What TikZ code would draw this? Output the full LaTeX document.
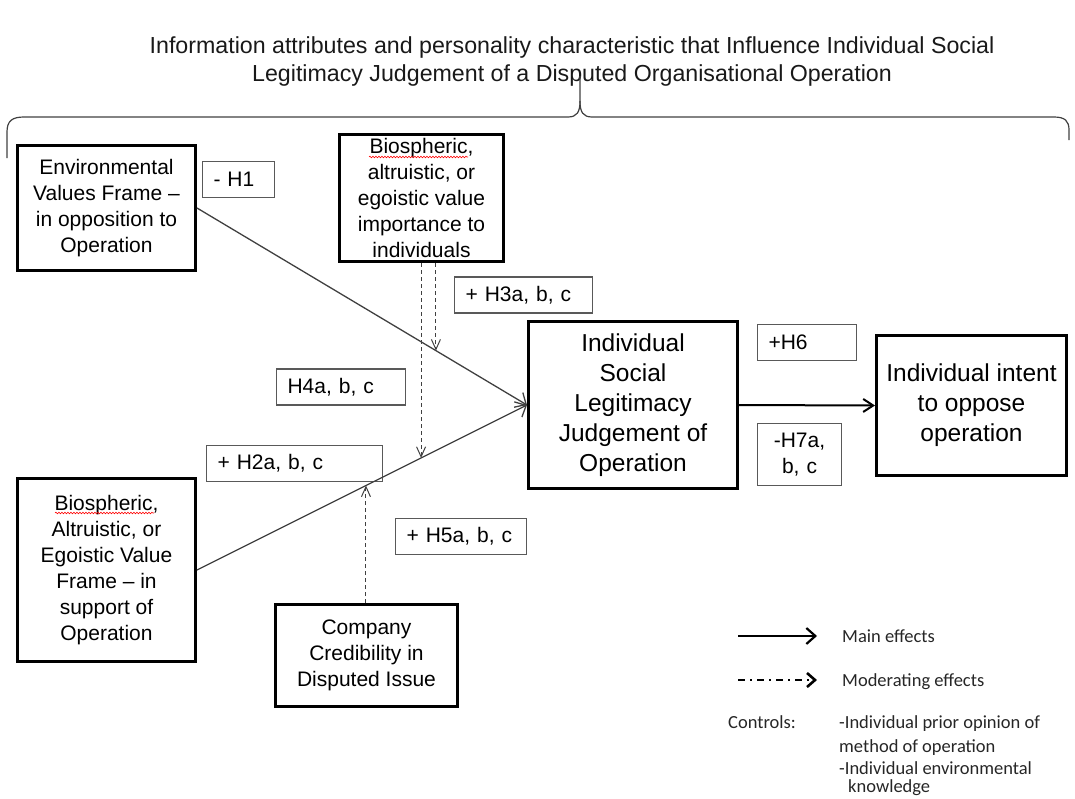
\documentclass[tikz,border=0pt]{standalone}
\usepackage{fontspec}
\setmainfont{Liberation Sans}
\newfontfamily\legendfont{Carlito}
\usetikzlibrary{arrows.meta,calc,decorations.pathmorphing}

\begin{document}
\begin{tikzpicture}[x=1pt,y=-1pt,
    factorNode/.style={draw,line width=3pt,align=center,inner sep=0pt,
      font=\fontsize{21}{26}\selectfont},
    outcomeNode/.style={factorNode,font=\fontsize{24.5}{30}\selectfont},
    hypNode/.style={draw=black!65,line width=1.2pt,align=left,inner xsep=11pt,inner ysep=0pt,
      minimum height=36pt,text width=#1,font=\fontsize{21}{26}\selectfont},
    mainArrow/.style={draw=black!75,line width=1.3pt,-{Straight Barb[length=9pt,width=17pt]}},
    modArrow/.style={draw=black!75,line width=1pt,dash pattern=on 4pt off 3pt,
      -{Straight Barb[length=10pt,width=9pt]}},
    legendText/.style={anchor=base west,inner sep=0pt,text=black!85,font=\legendfont\fontsize{18.5}{23}\selectfont},
    spellMark/.style={red,line width=0.6pt,decorate,decoration={snake,segment length=3pt,amplitude=0.8pt}},
  ]

    \useasboundingbox (0,0) rectangle (1075,798);

    \node[align=center,inner sep=0pt,text=black!90,font=\fontsize{23.2}{28}\selectfont] (title) at (572,61)
      {Information attributes and personality characteristic that Influence Individual Social\\
       Legitimacy Judgement of a Disputed Organisational Operation};

    % brace under the title
    \draw[black!75,line width=1.2pt] (7,158) -- (7,132) .. controls (7,121) and (12,117) .. (24,117)
      -- (568,117) .. controls (577,117) and (580,112) .. (580,101) -- (580,76);
    \draw[black!75,line width=1.2pt] (580,101) .. controls (580,112) and (583,117) .. (592,117)
      -- (1054,117) .. controls (1065,117) and (1069,121) .. (1069,130) -- (1069,140);

    \node[factorNode,minimum width=178pt,minimum height=125pt] (env) at (106.5,208)
      {Environmental\\Values Frame --\\in opposition to\\Operation};
    \node[factorNode,minimum width=164pt,minimum height=127pt] (bioTop) at (421.5,198)
      {Biospheric,\\altruistic, or\\egoistic value\\importance to\\individuals};
    \node[factorNode,minimum width=178pt,minimum height=183pt] (bioLow) at (106.5,570)
      {Biospheric,\\Altruistic, or\\Egoistic Value\\Frame -- in\\support of\\Operation};
    \node[factorNode,minimum width=182pt,minimum height=102pt] (comp) at (366.5,655.5)
      {Company\\Credibility in\\Disputed Issue};
    \node[outcomeNode,minimum width=209pt,minimum height=167pt] (legit) at (633,405)
      {Individual\\Social\\Legitimacy\\Judgement of\\Operation};
    \node[outcomeNode,minimum width=190pt,minimum height=140pt] (intent) at (971.5,405.5)
      {Individual intent\\to oppose\\operation};

    \draw[spellMark] (369,157) -- (468,157);
    \draw[spellMark] (55,513) -- (154,513);

    \node[hypNode=50pt] (h1) at (238.5,179.5) {- H1};
    \node[hypNode=116pt] (h3) at (523.5,295) {+ H3a, b, c};
    \node[hypNode=107pt] (h4) at (341,387) {H4a, b, c};
    \node[hypNode=154pt] (h2) at (294.5,463.5) {+ H2a, b, c};
    \node[hypNode=109pt] (h5) at (461,536.5) {+ H5a, b, c};
    \node[hypNode=77pt] (h6) at (807,342.5) {+H6};
    \node[hypNode=62pt,align=center,minimum height=62pt] (h7) at (799.5,454.5) {-H7a,\\b, c};

    \draw[mainArrow] (env.east) -- (legit.west);
    \draw[mainArrow] (bioLow.east) -- (legit.west);
    \draw[line width=2pt,-{Straight Barb[length=10pt,width=13pt]}] (legit.east) -- (intent.west);

    \coordinate (tipA) at ($(env.east)!0.724!(legit.west)$);
    \coordinate (tipB) at ($(bioLow.east)!0.679!(legit.west)$);
    \coordinate (tipC) at ($(bioLow.east)!0.512!(legit.west)$);
    \draw[modArrow] (tipA |- bioTop.south) -- (tipA);
    \draw[modArrow] (tipB |- bioTop.south) -- (tipB);
    \draw[modArrow] (tipC |- comp.north) -- (tipC);

    % legend
    \coordinate (mainL) at (738,636);
    \coordinate (mainR) at (817,636);
    \coordinate (modL) at (738,680);
    \coordinate (modR) at (817,680);
    \draw[line width=2.2pt,-{Straight Barb[length=9pt,width=16pt]}] (mainL) -- (mainR);
    \draw[line width=2.6pt,dash pattern=on 7pt off 5pt on 2pt off 5pt,
      -{Straight Barb[length=8pt,width=14pt]}] (modL) -- (modR);
    \node[legendText] (mainTxt) at (842,642) {Main effects};
    \node[legendText] (modTxt) at (842,686) {Moderating effects};
    \node[legendText] (ctrlTxt) at (728,728) {Controls:};
    \node[legendText] (ctrlA) at (839,728) {-Individual prior opinion of};
    \node[legendText] (ctrlB) at (839,752) {method of operation};
    \node[legendText] (ctrlC) at (839,774) {-Individual environmental};
    \node[legendText] (ctrlD) at (848,792) {knowledge};

\end{tikzpicture}
\end{document}
